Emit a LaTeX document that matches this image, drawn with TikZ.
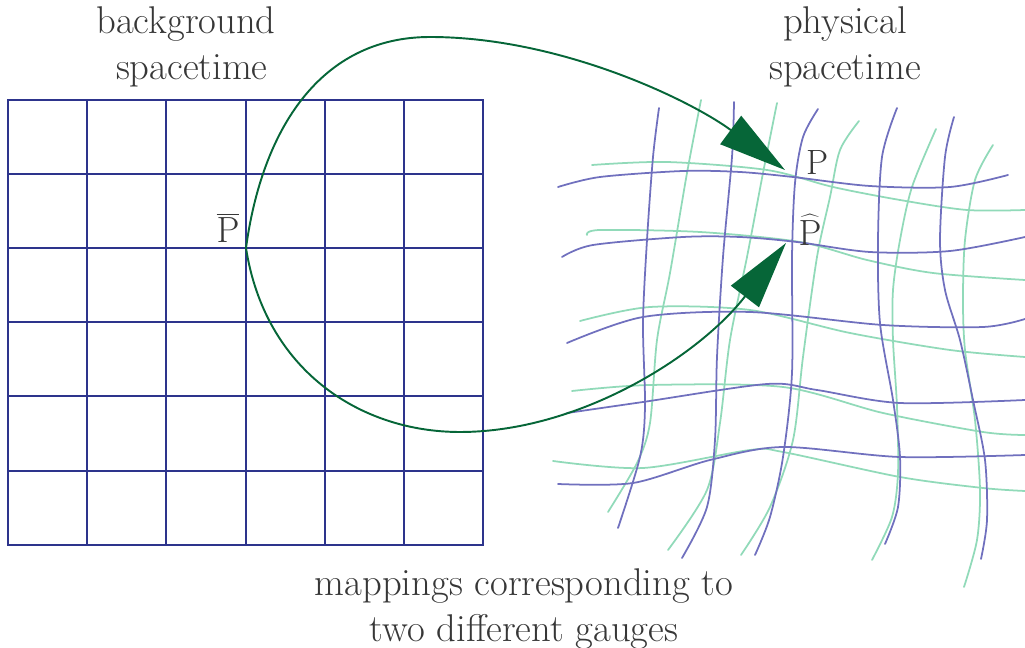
\documentclass[tikz,border=0pt]{standalone}
\usepackage{tikz}
\usetikzlibrary{arrows.meta,positioning}
\definecolor{gridnavy}{RGB}{45,52,140}
\definecolor{warpblue}{RGB}{112,112,190}
\definecolor{warpgreen}{RGB}{145,218,185}
\definecolor{mapgreen}{RGB}{6,102,56}
\definecolor{ink}{RGB}{55,55,55}
\tikzset{
  bggrid/.style={draw=gridnavy,line width=1.1pt},
  bluewarp/.style={draw=warpblue,line width=1pt,line cap=round},
  greenwarp/.style={draw=warpgreen,line width=1pt,line cap=round},
  mapping/.style={draw=mapgreen,line width=1.1pt,
    -{Triangle[length=1.35cm,width=0.7cm]}},
  caption/.style={text=ink,font=\fontsize{22}{26}\selectfont,align=center},
  ptlabel/.style={text=ink,font=\fontsize{20}{24}\selectfont,inner sep=1pt},
}
\begin{document}
\begin{tikzpicture}[x=0.02cm,y=-0.02cm]
  \useasboundingbox (0,0) rectangle (1025,648);
  % background grid
  \draw[bggrid] (8,100) rectangle (483,545);
  \foreach \x in {87,166,246,325,404} \draw[bggrid] (\x,100) -- (\x,545);
  \foreach \y in {174,248,322,396,471} \draw[bggrid] (8,\y) -- (483,\y);
  % physical spacetime, green family
  \draw[greenwarp] plot[smooth] coordinates {(592,165) (667,162) (767,170) (833,187) (900,200) (967,210) (1025,210)};
  \draw[greenwarp] plot[smooth] coordinates {(587,235) (600,230) (700,232) (800,242) (867,260) (933,273) (1025,280)};
  \draw[greenwarp] plot[smooth] coordinates {(580,321) (650,307) (750,310) (850,333) (950,350) (1025,357)};
  \draw[greenwarp] plot[smooth] coordinates {(572,391) (650,385) (783,387) (883,413) (983,432) (1025,435)};
  \draw[greenwarp] plot[smooth] coordinates {(553,461) (643,468) (750,450) (783,452) (900,477) (983,488) (1025,491)};
  \draw[greenwarp] plot[smooth] coordinates {(701,100) (687,173) (670,273) (657,340) (650,423) (637,463) (608,512)};
  \draw[greenwarp] plot[smooth] coordinates {(777,103) (763,173) (747,257) (730,340) (720,423) (707,490) (668,550)};
  \draw[greenwarp] plot[smooth] coordinates {(859,121) (840,150) (830,197) (817,257) (803,357) (793,440) (770,507) (741,555)};
  \draw[greenwarp] plot[smooth] coordinates {(936,129) (912,187) (900,240) (893,290) (893,340) (897,407) (898,473) (892,517) (872,560)};
  \draw[greenwarp] plot[smooth] coordinates {(993,145) (975,180) (965,240) (963,300) (965,350) (975,420) (980,490) (977,540) (964,587)};
  % physical spacetime, blue family
  \draw[bluewarp] plot[smooth] coordinates {(558,187) (600,177) (683,171) (740,172) (793,177) (870,186) (950,187) (1008,175)};
  \draw[bluewarp] plot[smooth] coordinates {(562,257) (593,245) (683,237) (740,237) (797,242) (870,252) (950,251) (1025,237)};
  \draw[bluewarp] plot[smooth] coordinates {(567,343) (643,317) (750,312) (883,325) (983,327) (1025,319)};
  \draw[bluewarp] plot[smooth] coordinates {(567,413) (643,402) (767,384) (817,390) (900,403) (1025,400)};
  \draw[bluewarp] plot[smooth] coordinates {(558,484) (633,483) (710,460) (783,447) (900,457) (1025,455)};
  \draw[bluewarp] plot[smooth] coordinates {(659,108) (653,157) (647,240) (643,323) (645,407) (640,457) (618,528)};
  \draw[bluewarp] plot[smooth] coordinates {(734,102) (732,157) (723,257) (717,357) (715,440) (707,507) (682,558)};
  \draw[bluewarp] plot[smooth] coordinates {(818,109) (803,137) (795,183) (792,257) (792,373) (783,457) (770,517) (755,555)};
  \draw[bluewarp] plot[smooth] coordinates {(897,108) (882,157) (878,240) (880,323) (893,400) (900,457) (898,507) (885,544)};
  \draw[bluewarp] plot[smooth] coordinates {(954,117) (945,157) (940,240) (945,290) (960,340) (973,400) (985,460) (987,520) (981,559)};
  % points
  \coordinate (pbar) at (246,248);
  \coordinate (p) at (785,170);
  \coordinate (phat) at (786,243);
  \coordinate (top) at (430,37);
  \coordinate (bottom) at (460,432);
  \node[ptlabel] (pbarlabel) at (228,228) {$\overline{\mathrm{P}}$};
  \node[ptlabel] (plabel) at (818,163) {P};
  \node[ptlabel] (phatlabel) at (810,230) {$\widehat{\mathrm{P}}$};
  % the two mappings
  \draw[mapping] (pbar) .. controls (262,130) and (320,37) .. (top)
    .. controls (560,37) and (690,100) .. (p);
  \draw[mapping] (pbar) .. controls (265,370) and (360,432) .. (bottom)
    .. controls (580,432) and (700,355) .. (phat);
  % captions
  \node[caption] (bgtitle) at (186,47) {background\\ \ spacetime};
  \node[caption] (phystitle) at (845,47) {physical\\ spacetime};
  \node[caption] (gaugetitle) at (524,609) {mappings corresponding to\\ two different gauges};
\end{tikzpicture}
\end{document}
